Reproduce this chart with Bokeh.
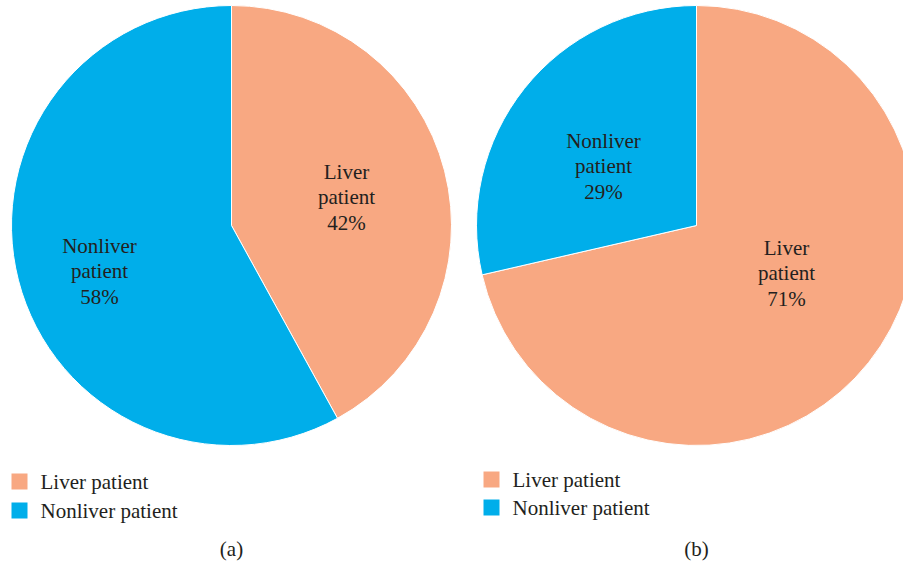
import math
from bokeh.plotting import figure
from bokeh.models import Range1d, ColumnDataSource
from bokeh.core.properties import value
from bokeh.embed import file_html
from bokeh.resources import INLINE

# ---- data ----
categories = ["Liver patient", "Nonliver patient"]
values_a = [42, 58]          # panel (a), percent
values_b = [71.4, 28.6]      # panel (b), percent
panel_labels = ["(a)", "(b)"]
colors = ["#F8A882", "#00AEEA"]

FONT = value("Liberation Serif")
TEXT_COLOR = "#231F20"
FS = "21px"
W, H = 903, 563


def Y(py):
    return H - py


p = figure(width=W, height=H, output_backend="svg", toolbar_location=None,
           x_range=Range1d(0, W), y_range=Range1d(0, H),
           min_border=0)
p.axis.visible = False
p.grid.visible = False
p.outline_line_color = None
p.background_fill_color = "white"

R = 220
centers = [(231, Y(225)), (696, Y(225))]
# label anchor points (image pixel coords) per panel per slice
label_xy = [[(346, 197), (99, 271)], [(786, 273), (603, 166)]]
legend_xy = [(19, 481, 40, 510), (491, 479, 512, 507)]

for k, vals in enumerate([values_a, values_b]):
    cx, cy = centers[k]
    total = sum(vals)
    starts, ends, cum = [], [], 0.0
    for v in vals:
        a0 = math.pi / 2 - 2 * math.pi * (cum + v) / total
        a1 = math.pi / 2 - 2 * math.pi * cum / total
        starts.append(a0)
        ends.append(a1)
        cum += v
    src = ColumnDataSource(dict(x=[cx] * len(vals), y=[cy] * len(vals),
                                start=starts, end=ends, color=colors))
    p.wedge(x="x", y="y", radius=R, start_angle="start", end_angle="end",
            fill_color="color", line_color="white", line_width=1, source=src)

    # slice labels
    texts = [c.replace(" ", "\n") + "\n" + f"{round(v)}%" for c, v in zip(categories, vals)]
    lx = [pt[0] for pt in label_xy[k]]
    ly = [Y(pt[1]) for pt in label_xy[k]]
    p.text(x=lx, y=ly, text=texts, text_font=FONT, text_font_size=FS,
           text_color=TEXT_COLOR, text_align="center", text_baseline="middle",
           text_line_height=1.08)

    # legend
    sx, sy1, tx, sy2 = legend_xy[k]
    p.rect(x=[sx, sx], y=[Y(sy1), Y(sy2)], width=16, height=16,
           fill_color=colors, line_color=None)
    p.text(x=[tx, tx], y=[Y(sy1), Y(sy2)], text=categories, text_font=FONT,
           text_font_size=FS, text_color=TEXT_COLOR, text_align="left",
           text_baseline="middle")

    # panel caption
    p.text(x=[cx], y=[Y(548)], text=[panel_labels[k]], text_font=FONT,
           text_font_size=FS, text_color=TEXT_COLOR, text_align="center",
           text_baseline="middle")

open("out.html", "w").write(file_html(p, INLINE))
